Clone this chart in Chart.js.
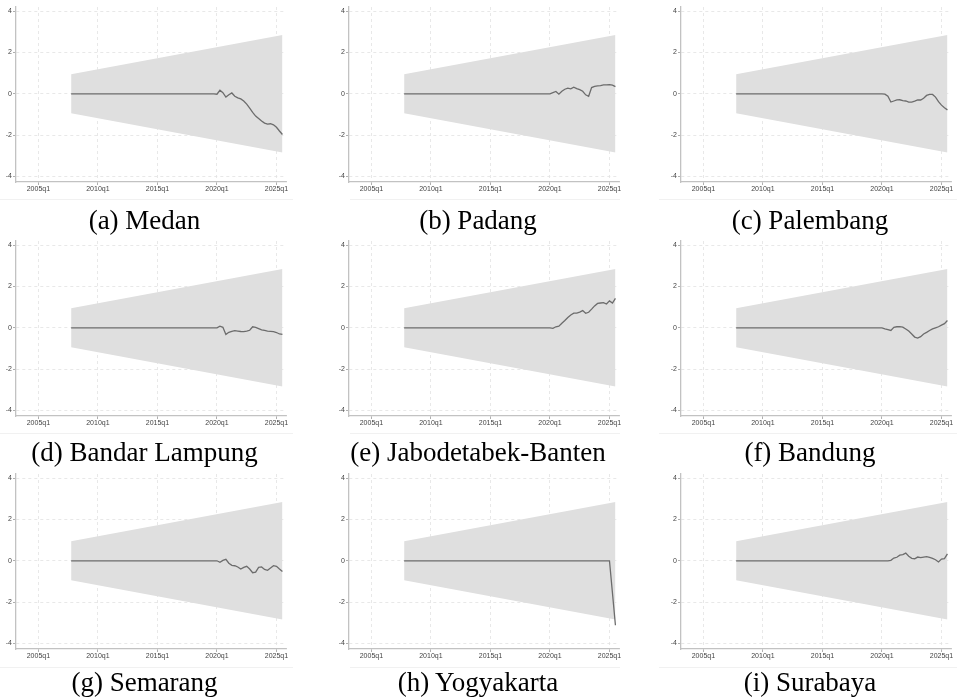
<!DOCTYPE html>
<html>
<head>
<meta charset="utf-8">
<script src="https://cdn.jsdelivr.net/npm/chart.js@4.4.1/dist/chart.umd.min.js"></script>
<style>
  html, body { margin: 0; padding: 0; background: #fff; overflow: hidden; }
  #wrap { position: relative; width: 957px; height: 700px; overflow: hidden; }
  #wrap canvas { position: absolute; }
  .cap {
    position: absolute;
    font-family: "Liberation Serif", "Times New Roman", serif;
    font-size: 27px;
    line-height: 30px;
    color: #000;
    white-space: nowrap;
    transform: translate(-50%, -50%);
  }
  .sep { position: absolute; height: 1px; background: #f1f1f1; }
</style>
</head>
<body>
<div id="wrap"></div>
<script>
// Quarterly sample, 2007q4 - 2025q3
const quarters = [
  '2007q4',
  '2008q1','2008q2','2008q3','2008q4','2009q1','2009q2','2009q3','2009q4',
  '2010q1','2010q2','2010q3','2010q4','2011q1','2011q2','2011q3','2011q4',
  '2012q1','2012q2','2012q3','2012q4','2013q1','2013q2','2013q3','2013q4',
  '2014q1','2014q2','2014q3','2014q4','2015q1','2015q2','2015q3','2015q4',
  '2016q1','2016q2','2016q3','2016q4','2017q1','2017q2','2017q3','2017q4',
  '2018q1','2018q2','2018q3','2018q4','2019q1','2019q2','2019q3','2019q4',
  '2020q1','2020q2','2020q3','2020q4','2021q1','2021q2','2021q3','2021q4',
  '2022q1','2022q2','2022q3','2022q4','2023q1','2023q2','2023q3','2023q4',
  '2024q1','2024q2','2024q3','2024q4','2025q1','2025q2','2025q3'
];

const xTickLabels = ['2005q1', '2010q1', '2015q1', '2020q1', '2025q1'];
const yTickValues = [-4, -2, 0, 2, 4];

// 5% CUSUM bounds at the first and last quarter
const bandQuarters = ['2007q4', '2025q3'];
const bandUpper = [0.948, 2.844];
const bandLower = [-0.948, -2.844];

const captions = [
  '(a) Medan', '(b) Padang', '(c) Palembang',
  '(d) Bandar Lampung', '(e) Jabodetabek-Banten', '(f) Bandung',
  '(g) Semarang', '(h) Yogyakarta', '(i) Surabaya'
];

// CUSUM statistic per city, one value per quarter
const medan = [
  0, 0,0,0,0, 0,0,0,0, 0,0,0,0, 0,0,0,0, 0,0,0,0, 0,0,0,0, 0,0,0,0, 0,0,0,0, 0,0,0,0, 0,0,0,0, 0,0,0,0, 0,0,0,0,
  -0.02, 0.17, 0.05, -0.16, -0.05, 0.04, -0.12, -0.2, -0.25, -0.35, -0.5, -0.7,
  -0.9, -1.08, -1.2, -1.32, -1.42, -1.47, -1.45, -1.5, -1.62, -1.8, -1.97
];
const padang = [
  0, 0,0,0,0, 0,0,0,0, 0,0,0,0, 0,0,0,0, 0,0,0,0, 0,0,0,0, 0,0,0,0, 0,0,0,0, 0,0,0,0, 0,0,0,0, 0,0,0,0, 0,0,0,0,
  0, 0.06, 0.11, -0.02, 0.12, 0.22, 0.27, 0.24, 0.32, 0.25, 0.2, 0.12,
  -0.05, -0.12, 0.3, 0.36, 0.38, 0.39, 0.43, 0.43, 0.44, 0.42, 0.35
];
const palembang = [
  0, 0,0,0,0, 0,0,0,0, 0,0,0,0, 0,0,0,0, 0,0,0,0, 0,0,0,0, 0,0,0,0, 0,0,0,0, 0,0,0,0, 0,0,0,0, 0,0,0,0, 0,0,0,0,
  0, -0.02, -0.12, -0.4, -0.35, -0.3, -0.29, -0.33, -0.35, -0.4, -0.4, -0.36,
  -0.3, -0.3, -0.22, -0.08, -0.03, -0.03, -0.16, -0.38, -0.55, -0.68, -0.78
];
const bandarLampung = [
  0, 0,0,0,0, 0,0,0,0, 0,0,0,0, 0,0,0,0, 0,0,0,0, 0,0,0,0, 0,0,0,0, 0,0,0,0, 0,0,0,0, 0,0,0,0, 0,0,0,0, 0,0,0,0,
  0, 0.08, 0.02, -0.32, -0.22, -0.18, -0.14, -0.16, -0.18, -0.19, -0.16, -0.12,
  0.05, 0.02, -0.04, -0.1, -0.13, -0.16, -0.17, -0.19, -0.23, -0.3, -0.32
];
const jabodetabekBanten = [
  0, 0,0,0,0, 0,0,0,0, 0,0,0,0, 0,0,0,0, 0,0,0,0, 0,0,0,0, 0,0,0,0, 0,0,0,0, 0,0,0,0, 0,0,0,0, 0,0,0,0, 0,0,0,0,
  0, -0.03, 0.05, 0.08, 0.22, 0.35, 0.5, 0.62, 0.71, 0.71, 0.76, 0.83,
  0.7, 0.75, 0.9, 1.06, 1.18, 1.2, 1.22, 1.15, 1.3, 1.2, 1.42
];
const bandung = [
  0, 0,0,0,0, 0,0,0,0, 0,0,0,0, 0,0,0,0, 0,0,0,0, 0,0,0,0, 0,0,0,0, 0,0,0,0, 0,0,0,0, 0,0,0,0, 0,0,0,0, 0,0,0,0,
  0, -0.05, -0.09, -0.13, 0.02, 0.05, 0.06, 0.03, -0.06, -0.16, -0.3, -0.45,
  -0.5, -0.43, -0.3, -0.22, -0.13, -0.05, 0, 0.05, 0.13, 0.2, 0.35
];
const semarang = [
  0, 0,0,0,0, 0,0,0,0, 0,0,0,0, 0,0,0,0, 0,0,0,0, 0,0,0,0, 0,0,0,0, 0,0,0,0, 0,0,0,0, 0,0,0,0, 0,0,0,0, 0,0,0,0,
  0, -0.07, 0.02, 0.07, -0.12, -0.22, -0.24, -0.3, -0.4, -0.32, -0.27, -0.4,
  -0.58, -0.55, -0.32, -0.3, -0.42, -0.46, -0.35, -0.24, -0.27, -0.4, -0.52
];
const yogyakarta = [
  0, 0,0,0,0, 0,0,0,0, 0,0,0,0, 0,0,0,0, 0,0,0,0, 0,0,0,0, 0,0,0,0, 0,0,0,0, 0,0,0,0, 0,0,0,0, 0,0,0,0, 0,0,0,0,
  0, 0, 0, 0, 0, 0, 0, 0, 0, 0, 0, 0,
  0, 0, 0, 0, 0, 0, 0, 0, 0, -1.56, -3.12
];
const surabaya = [
  0, 0,0,0,0, 0,0,0,0, 0,0,0,0, 0,0,0,0, 0,0,0,0, 0,0,0,0, 0,0,0,0, 0,0,0,0, 0,0,0,0, 0,0,0,0, 0,0,0,0, 0,0,0,0,
  0, 0, 0, 0.02, 0.13, 0.17, 0.27, 0.3, 0.37, 0.22, 0.12, 0.1,
  0.18, 0.15, 0.18, 0.2, 0.16, 0.12, 0.05, -0.06, 0.08, 0.1, 0.33
];

const seriesList = [medan, padang, palembang, bandarLampung, jabodetabekBanten,
                    bandung, semarang, yogyakarta, surabaya];

// "2007q4" -> 2007.75
function toYear(q) {
  const parts = q.split('q');
  return Number(parts[0]) + (Number(parts[1]) - 1) / 4;
}

const wrap = document.getElementById('wrap');
const colLeft = [0, 333, 665];
const rowTop = [0, 234, 467];
const capX = [144.5, 478, 810];
const capY = [220, 451.7, 681.7];
const sepY = [199, 433, 667];
const sepSpan = [[0, 293], [350, 620], [659, 957]];

const tickFont = { family: '"Liberation Sans", Arial, sans-serif', size: 7 };

function makePanel(i) {
  const col = i % 3, row = Math.floor(i / 3);
  const values = seriesList[i];

  const cv = document.createElement('canvas');
  cv.width = 294;
  cv.height = 200;
  cv.style.left = colLeft[col] + 'px';
  cv.style.top = rowTop[row] + 'px';
  wrap.appendChild(cv);

  new Chart(cv, {
    type: 'line',
    data: {
      datasets: [
        {
          // upper bound, filled down to the lower bound
          data: bandQuarters.map((q, k) => ({ x: toYear(q), y: bandUpper[k] })),
          fill: '+1', backgroundColor: '#dfdfdf', borderWidth: 0, pointRadius: 0,
          order: 2
        },
        {
          data: bandQuarters.map((q, k) => ({ x: toYear(q), y: bandLower[k] })),
          fill: false, borderWidth: 0, pointRadius: 0,
          order: 3
        },
        {
          // CUSUM path, drawn above the band
          data: quarters.map((q, k) => ({ x: toYear(q), y: values[k] })),
          fill: false, borderColor: '#6c6c6c', borderWidth: 1.3,
          pointRadius: 0, tension: 0,
          order: 0
        }
      ]
    },
    options: {
      responsive: false,
      animation: false,
      devicePixelRatio: 1,
      events: [],
      layout: { padding: { top: 7, right: 8, left: 0, bottom: 0 } },
      plugins: { legend: { display: false }, tooltip: { enabled: false } },
      scales: {
        x: {
          type: 'linear',
          min: 2003.12,
          max: 2025.8,
          afterBuildTicks: s => { s.ticks = xTickLabels.map(t => ({ value: toYear(t) })); },
          afterFit: s => { s.height = 18; s.paddingLeft = 0; s.paddingRight = 0; },
          ticks: {
            autoSkip: false, maxRotation: 0, minRotation: 0, padding: 0,
            font: tickFont, color: '#444',
            callback: (v, idx) => xTickLabels[idx]
          },
          grid: { color: '#e3e3e3', lineWidth: 0.8, tickLength: 3, tickColor: '#9a9a9a', tickWidth: 0.8 },
          border: { color: '#c2c2c2', width: 1.3, dash: [3, 3] }
        },
        y: {
          type: 'linear',
          min: -4.27,
          max: 4.2,
          afterBuildTicks: s => { s.ticks = yTickValues.map(v => ({ value: v })); },
          afterFit: s => { s.width = 16; s.paddingTop = 0; s.paddingBottom = 0; },
          ticks: {
            padding: 1, font: tickFont, color: '#444',
            callback: (v, idx) => String(yTickValues[idx])
          },
          grid: { color: '#e3e3e3', lineWidth: 0.8, tickLength: 3, tickColor: '#9a9a9a', tickWidth: 0.8 },
          border: { color: '#c2c2c2', width: 1.3, dash: [3, 3] }
        }
      }
    }
  });

  const sep = document.createElement('div');
  sep.className = 'sep';
  sep.style.left = sepSpan[col][0] + 'px';
  sep.style.width = (sepSpan[col][1] - sepSpan[col][0]) + 'px';
  sep.style.top = sepY[row] + 'px';
  wrap.appendChild(sep);

  const cap = document.createElement('div');
  cap.className = 'cap';
  cap.textContent = captions[i];
  cap.style.left = capX[col] + 'px';
  cap.style.top = capY[row] + 'px';
  wrap.appendChild(cap);
}

for (let i = 0; i < 9; i++) makePanel(i);
</script>
</body>
</html>
